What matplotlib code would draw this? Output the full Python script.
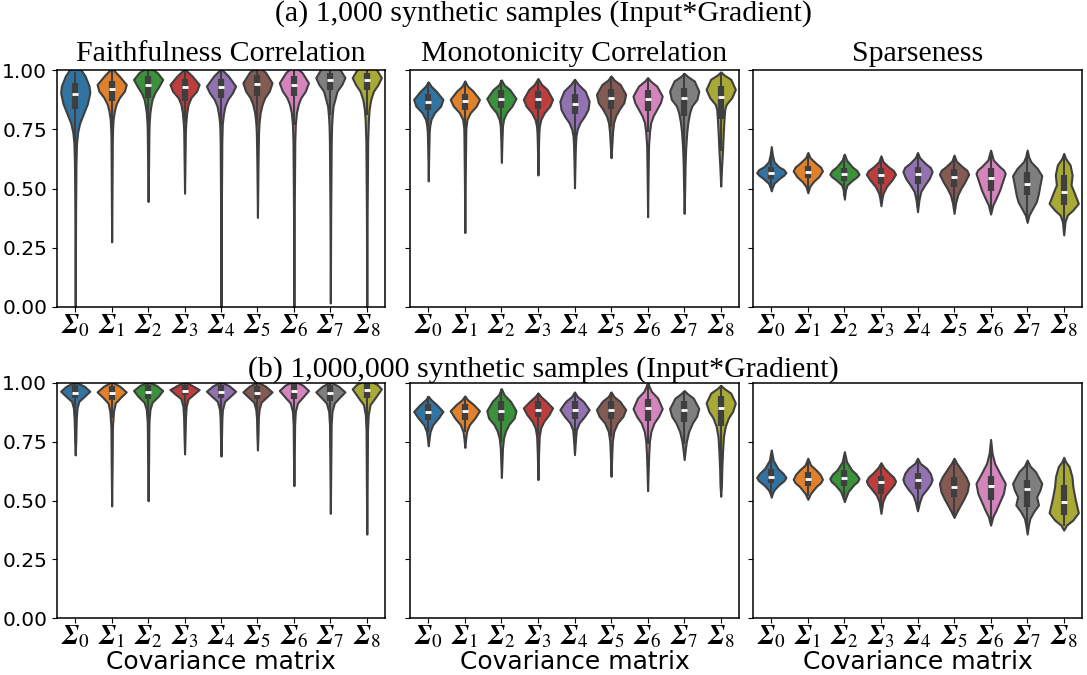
import numpy as np
import matplotlib.pyplot as plt

plt.rcParams['mathtext.fontset'] = 'stix'

# x categories (covariance matrices)
cov_labels = [r'$\mathbfit{\Sigma}_0$', r'$\mathbfit{\Sigma}_1$', r'$\mathbfit{\Sigma}_2$',
              r'$\mathbfit{\Sigma}_3$', r'$\mathbfit{\Sigma}_4$', r'$\mathbfit{\Sigma}_5$',
              r'$\mathbfit{\Sigma}_6$', r'$\mathbfit{\Sigma}_7$', r'$\mathbfit{\Sigma}_8$']
metrics = ['Faithfulness Correlation', 'Monotonicity Correlation', 'Sparseness']
row_titles = ['(a) 1,000 synthetic samples (Input*Gradient)',
              '(b) 1,000,000 synthetic samples (Input*Gradient)']

colors = ['#3274a1', '#e1812c', '#3a923a', '#c03d3e', '#9372b2',
          '#845b53', '#d684bd', '#7f7f7f', '#a9aa35']
gray = '#3f3f3f'

# violin outlines: (value, density width) from bottom to top
faith_a_shape = [
    [(0.0, 0), (0.40, .02), (0.60, .04), (0.69, .07), (0.736, .13), (0.775, .24), (0.816, .45), (0.858, .67), (0.904, .80), (0.932, .76), (0.975, .54), (1.0, .32), (1.03, 0)],
    [(0.275, 0), (0.5, .02), (0.70, .035), (0.75, .05), (0.792, .08), (0.827, .15), (0.855, .24), (0.883, .42), (0.911, .70), (0.939, .80), (0.975, .41), (0.996, .15), (1.01, 0)],
    [(0.445, 0), (0.6, .025), (0.74, .045), (0.778, .06), (0.82, .10), (0.848, .15), (0.876, .22), (0.904, .37), (0.932, .60), (0.960, .80), (0.989, .50), (1.01, .1), (1.02, 0)],
    [(0.48, 0), (0.62, .025), (0.74, .045), (0.778, .07), (0.82, .12), (0.855, .20), (0.883, .35), (0.911, .66), (0.939, .80), (0.975, .41), (0.996, .12), (1.01, 0)],
    [(0.0, 0), (0.4, .02), (0.70, .045), (0.771, .07), (0.813, .13), (0.848, .22), (0.876, .37), (0.904, .63), (0.932, .80), (0.975, .40), (0.996, .12), (1.01, 0)],
    [(0.378, 0), (0.6, .03), (0.736, .06), (0.778, .09), (0.82, .15), (0.855, .26), (0.883, .40), (0.911, .65), (0.946, .80), (0.989, .45), (1.01, .15), (1.02, 0)],
    [(0.0, 0), (0.4, .02), (0.70, .05), (0.771, .08), (0.82, .14), (0.855, .24), (0.883, .38), (0.911, .63), (0.946, .80), (0.989, .45), (1.01, .15), (1.02, 0)],
    [(0.017, 0), (0.4, .02), (0.70, .05), (0.764, .07), (0.806, .10), (0.848, .15), (0.873, .24), (0.911, .37), (0.939, .63), (0.968, .80), (1.0, .55), (1.03, 0)],
    [(0.0, 0), (0.4, .02), (0.70, .05), (0.79, .09), (0.834, .13), (0.876, .22), (0.911, .37), (0.939, .62), (0.968, .80), (1.0, .55), (1.03, 0)],
]
mono_a_shape = [
    [(0.532, 0), (0.65, .025), (0.736, .05), (0.764, .08), (0.792, .15), (0.82, .34), (0.848, .68), (0.876, .80), (0.911, .43), (0.932, .15), (0.95, 0)],
    [(0.314, 0), (0.55, .025), (0.73, .05), (0.757, .06), (0.792, .12), (0.82, .30), (0.848, .63), (0.876, .80), (0.911, .45), (0.932, .15), (0.954, 0)],
    [(0.61, 0), (0.70, .03), (0.764, .06), (0.792, .12), (0.82, .28), (0.848, .58), (0.880, .80), (0.918, .45), (0.937, .15), (0.958, 0)],
    [(0.557, 0), (0.68, .03), (0.736, .05), (0.764, .08), (0.792, .16), (0.82, .35), (0.848, .65), (0.876, .80), (0.918, .50), (0.939, .20), (0.964, 0)],
    [(0.503, 0), (0.62, .03), (0.679, .05), (0.722, .08), (0.75, .15), (0.778, .30), (0.806, .55), (0.834, .74), (0.869, .80), (0.911, .58), (0.94, .20), (0.961, 0)],
    [(0.63, 0), (0.693, .05), (0.736, .08), (0.778, .14), (0.806, .25), (0.834, .45), (0.862, .70), (0.897, .80), (0.939, .50), (0.957, .18), (0.975, 0)],
    [(0.381, 0), (0.55, .025), (0.679, .05), (0.736, .10), (0.778, .17), (0.806, .30), (0.834, .50), (0.862, .70), (0.89, .80), (0.932, .50), (0.954, .15), (0.968, 0)],
    [(0.395, 0), (0.50, .03), (0.595, .05), (0.665, .08), (0.736, .14), (0.778, .20), (0.82, .30), (0.848, .42), (0.876, .70), (0.911, .80), (0.954, .55), (0.972, .20), (0.986, 0)],
    [(0.51, 0), (0.595, .05), (0.665, .10), (0.736, .14), (0.792, .18), (0.834, .22), (0.855, .30), (0.883, .60), (0.918, .80), (0.961, .55), (0.978, .20), (0.992, 0)],
]
sparse_a_shape = [
    [(0.49, 0), (0.501, .04), (0.522, .15), (0.543, .45), (0.556, .68), (0.567, .80), (0.58, .68), (0.592, .40), (0.613, .15), (0.641, .06), (0.677, 0)],
    [(0.482, 0), (0.508, .10), (0.529, .30), (0.55, .60), (0.574, .80), (0.59, .70), (0.606, .45), (0.63, .12), (0.652, 0)],
    [(0.455, 0), (0.494, .06), (0.515, .15), (0.536, .45), (0.549, .68), (0.56, .80), (0.576, .68), (0.592, .42), (0.62, .12), (0.645, 0)],
    [(0.427, 0), (0.459, .06), (0.48, .12), (0.508, .30), (0.536, .60), (0.56, .80), (0.576, .68), (0.592, .40), (0.613, .12), (0.638, 0)],
    [(0.402, 0), (0.452, .08), (0.487, .18), (0.515, .40), (0.543, .65), (0.571, .80), (0.589, .70), (0.606, .42), (0.63, .12), (0.652, 0)],
    [(0.395, 0), (0.437, .08), (0.473, .20), (0.501, .38), (0.529, .60), (0.56, .80), (0.577, .70), (0.592, .45), (0.616, .12), (0.641, 0)],
    [(0.392, 0), (0.43, .12), (0.459, .30), (0.494, .50), (0.529, .65), (0.564, .80), (0.579, .70), (0.592, .50), (0.62, .15), (0.662, 0)],
    [(0.357, 0), (0.388, .10), (0.416, .30), (0.444, .50), (0.473, .60), (0.515, .70), (0.554, .80), (0.585, .55), (0.613, .20), (0.634, .08), (0.662, 0)],
    [(0.304, 0), (0.36, .07), (0.388, .20), (0.409, .50), (0.437, .80), (0.487, .55), (0.515, .40), (0.557, .46), (0.599, .35), (0.627, .10), (0.648, 0)],
]
faith_b_shape = [
    [(0.694, 0), (0.75, .03), (0.794, .04), (0.851, .06), (0.894, .10), (0.922, .20), (0.943, .50), (0.965, .80), (0.986, .50), (1.005, 0)],
    [(0.477, 0), (0.65, .025), (0.80, .04), (0.823, .05), (0.879, .10), (0.915, .20), (0.94, .50), (0.962, .80), (0.986, .45), (1.005, 0)],
    [(0.499, 0), (0.65, .025), (0.80, .04), (0.837, .05), (0.887, .10), (0.918, .22), (0.943, .55), (0.968, .80), (0.99, .45), (1.005, 0)],
    [(0.698, 0), (0.78, .03), (0.851, .05), (0.901, .09), (0.933, .20), (0.952, .50), (0.972, .80), (0.99, .40), (1.005, 0)],
    [(0.689, 0), (0.78, .03), (0.851, .05), (0.887, .08), (0.922, .20), (0.943, .50), (0.965, .80), (0.988, .45), (1.005, 0)],
    [(0.715, 0), (0.78, .03), (0.851, .05), (0.887, .09), (0.918, .20), (0.94, .50), (0.962, .80), (0.986, .45), (1.005, 0)],
    [(0.563, 0), (0.70, .025), (0.823, .04), (0.879, .08), (0.915, .20), (0.943, .52), (0.968, .80), (0.99, .50), (1.01, 0)],
    [(0.445, 0), (0.65, .025), (0.823, .045), (0.879, .09), (0.915, .22), (0.94, .52), (0.962, .80), (0.986, .45), (1.005, 0)],
    [(0.357, 0), (0.60, .025), (0.80, .04), (0.865, .08), (0.908, .18), (0.936, .45), (0.975, .80), (0.995, .55), (1.015, 0)],
]
mono_b_shape = [
    [(0.733, 0), (0.766, .05), (0.794, .10), (0.823, .25), (0.851, .55), (0.879, .80), (0.908, .45), (0.929, .15), (0.943, 0)],
    [(0.726, 0), (0.766, .05), (0.794, .10), (0.823, .25), (0.851, .55), (0.882, .80), (0.908, .48), (0.929, .15), (0.945, 0)],
    [(0.598, 0), (0.681, .04), (0.723, .06), (0.766, .12), (0.794, .22), (0.823, .40), (0.851, .70), (0.882, .80), (0.922, .50), (0.95, .15), (0.976, 0)],
    [(0.589, 0), (0.70, .035), (0.773, .07), (0.809, .15), (0.837, .32), (0.865, .60), (0.894, .80), (0.922, .45), (0.943, .15), (0.958, 0)],
    [(0.695, 0), (0.766, .06), (0.801, .10), (0.83, .25), (0.858, .55), (0.887, .80), (0.922, .48), (0.943, .15), (0.962, 0)],
    [(0.603, 0), (0.695, .04), (0.752, .07), (0.794, .15), (0.83, .35), (0.858, .65), (0.887, .80), (0.922, .48), (0.943, .15), (0.962, 0)],
    [(0.542, 0), (0.624, .03), (0.695, .06), (0.752, .10), (0.794, .18), (0.83, .35), (0.858, .60), (0.891, .80), (0.936, .55), (0.965, .20), (0.986, .08), (1.005, 0)],
    [(0.674, 0), (0.716, .06), (0.752, .12), (0.794, .25), (0.83, .45), (0.858, .68), (0.891, .80), (0.936, .50), (0.953, .20), (0.968, 0)],
    [(0.518, 0), (0.567, .04), (0.638, .06), (0.709, .10), (0.773, .15), (0.816, .25), (0.851, .42), (0.879, .65), (0.915, .80), (0.957, .55), (0.976, .20), (0.99, 0)],
]
sparse_b_shape = [
    [(0.514, 0), (0.53, .06), (0.545, .15), (0.566, .40), (0.585, .70), (0.598, .80), (0.615, .65), (0.637, .35), (0.672, .10), (0.695, .05), (0.715, 0)],
    [(0.505, 0), (0.53, .15), (0.559, .45), (0.576, .70), (0.59, .80), (0.61, .68), (0.63, .45), (0.651, .15), (0.68, 0)],
    [(0.495, 0), (0.509, .06), (0.538, .20), (0.566, .50), (0.581, .72), (0.594, .80), (0.612, .65), (0.63, .40), (0.665, .12), (0.708, 0)],
    [(0.445, 0), (0.495, .10), (0.523, .25), (0.552, .55), (0.568, .72), (0.583, .80), (0.60, .68), (0.616, .45), (0.641, .15), (0.661, 0)],
    [(0.456, 0), (0.495, .12), (0.523, .25), (0.552, .55), (0.572, .72), (0.59, .80), (0.615, .70), (0.637, .50), (0.658, .15), (0.68, 0)],
    [(0.428, 0), (0.452, .15), (0.481, .35), (0.509, .55), (0.538, .72), (0.573, .80), (0.60, .65), (0.63, .40), (0.658, .15), (0.68, 0)],
    [(0.395, 0), (0.431, .12), (0.459, .30), (0.495, .50), (0.53, .70), (0.573, .80), (0.616, .50), (0.658, .22), (0.701, .08), (0.76, 0)],
    [(0.357, 0), (0.395, .07), (0.424, .15), (0.452, .35), (0.481, .62), (0.516, .52), (0.545, .70), (0.573, .80), (0.623, .45), (0.647, .15), (0.672, 0)],
    [(0.374, 0), (0.395, .15), (0.417, .50), (0.448, .80), (0.481, .70), (0.516, .60), (0.559, .50), (0.601, .45), (0.644, .30), (0.665, .10), (0.684, 0)],
]

# inner boxes: [whisker low, q1, median, q3, whisker high]
faith_a_box = [[0.67, 0.834, 0.899, 0.944, 0.99], [0.75, 0.869, 0.918, 0.954, 1.0],
               [0.78, 0.88, 0.938, 0.975, 1.0], [0.78, 0.868, 0.930, 0.964, 1.0],
               [0.76, 0.883, 0.929, 0.963, 1.0], [0.77, 0.891, 0.943, 0.977, 1.0],
               [0.77, 0.890, 0.938, 0.975, 1.0], [0.81, 0.915, 0.957, 0.986, 1.0],
               [0.81, 0.915, 0.956, 0.986, 1.0]]
mono_a_box = [[0.74, 0.83, 0.866, 0.899, 0.95], [0.72, 0.832, 0.871, 0.90, 0.954],
              [0.76, 0.838, 0.876, 0.914, 0.958], [0.73, 0.834, 0.876, 0.91, 0.964],
              [0.70, 0.813, 0.858, 0.90, 0.961], [0.76, 0.834, 0.88, 0.918, 0.975],
              [0.74, 0.827, 0.876, 0.915, 0.968], [0.63, 0.806, 0.883, 0.925, 0.986],
              [0.66, 0.792, 0.887, 0.932, 0.992]]
sparse_a_box = [[0.50, 0.54, 0.567, 0.592, 0.64], [0.49, 0.543, 0.571, 0.596, 0.645],
                [0.47, 0.533, 0.561, 0.588, 0.64], [0.44, 0.519, 0.557, 0.585, 0.632],
                [0.42, 0.519, 0.56, 0.589, 0.645], [0.42, 0.508, 0.55, 0.581, 0.635],
                [0.41, 0.49, 0.543, 0.585, 0.655], [0.37, 0.473, 0.519, 0.571, 0.655],
                [0.31, 0.43, 0.484, 0.557, 0.645]]
faith_b_box = [[0.855, 0.936, 0.957, 0.99, 1.0], [0.85, 0.929, 0.957, 0.986, 1.0],
               [0.85, 0.934, 0.962, 0.99, 1.0], [0.88, 0.948, 0.967, 0.993, 1.0],
               [0.86, 0.936, 0.962, 0.99, 1.0], [0.86, 0.933, 0.957, 0.986, 1.0],
               [0.84, 0.934, 0.967, 1.0, 1.0], [0.83, 0.925, 0.957, 0.99, 1.0],
               [0.84, 0.936, 0.971, 1.0, 1.0]]
mono_b_box = [[0.79, 0.844, 0.875, 0.91, 0.943], [0.79, 0.844, 0.882, 0.91, 0.945],
              [0.75, 0.837, 0.879, 0.922, 0.976], [0.78, 0.854, 0.887, 0.922, 0.958],
              [0.77, 0.848, 0.887, 0.922, 0.962], [0.77, 0.848, 0.887, 0.922, 0.962],
              [0.74, 0.84, 0.894, 0.933, 1.0], [0.74, 0.834, 0.887, 0.925, 0.968],
              [0.63, 0.816, 0.894, 0.943, 0.99]]
sparse_b_box = [[0.53, 0.573, 0.601, 0.636, 0.69], [0.52, 0.561, 0.591, 0.622, 0.675],
                [0.51, 0.561, 0.594, 0.63, 0.69], [0.46, 0.527, 0.58, 0.604, 0.655],
                [0.47, 0.551, 0.587, 0.618, 0.675], [0.44, 0.513, 0.559, 0.598, 0.675],
                [0.41, 0.502, 0.562, 0.604, 0.71], [0.38, 0.474, 0.548, 0.587, 0.665],
                [0.39, 0.438, 0.495, 0.566, 0.68]]

panels = [[(faith_a_shape, faith_a_box), (mono_a_shape, mono_a_box), (sparse_a_shape, sparse_a_box)],
          [(faith_b_shape, faith_b_box), (mono_b_shape, mono_b_box), (sparse_b_shape, sparse_b_box)]]


def draw_violins(ax, shapes, boxes):
    stats = []
    for knots in shapes:
        ys = np.array([k[0] for k in knots])
        ws = np.array([k[1] for k in knots])
        stats.append(dict(coords=ys, vals=ws, mean=ys.mean(), median=np.median(ys),
                          min=ys[0], max=ys[-1]))
    widths = [max(k[1] for k in knots) for knots in shapes]
    parts = ax.violin(stats, positions=range(len(shapes)), widths=widths,
                      showextrema=False)
    for body, c in zip(parts['bodies'], colors):
        body.set_facecolor(c)
        body.set_edgecolor(gray)
        body.set_linewidth(1.5)
        body.set_alpha(1)
    for i, (lo, q1, med, q3, hi) in enumerate(boxes):
        ax.vlines(i, lo, hi, color=gray, lw=1.5, zorder=2)
        ax.vlines(i, q1, q3, color=gray, lw=4.5, zorder=2)
        ax.plot(i, med, marker='_', ms=4, mew=2, color='white', zorder=3)


fig = plt.figure(figsize=(10.87, 6.75), dpi=100)
W, H = 1087, 675
col_x = [(57, 328), (410, 329), (753, 329)]
row_y = [(70, 307), (383, 618)]

for r in range(2):
    for c in range(3):
        x0, w = col_x[c]
        top, bot = row_y[r]
        ax = fig.add_axes([x0 / W, 1 - bot / H, w / W, (bot - top) / H])
        shapes, boxes = panels[r][c]
        draw_violins(ax, shapes, boxes)
        ax.set_xlim(-0.5, 8.5)
        ax.set_ylim(0, 1)
        ax.set_yticks([0, 0.25, 0.5, 0.75, 1.0])
        ax.set_xticks(range(9))
        ax.set_xticklabels(cov_labels, fontsize=19.5)
        ax.tick_params(axis='x', pad=1)
        if c == 0:
            ax.set_yticklabels(['0.00', '0.25', '0.50', '0.75', '1.00'], fontsize=14.5)
        else:
            ax.set_yticklabels([])
        for s in ax.spines.values():
            s.set_linewidth(1.1)
        if r == 0:
            fig.text((x0 + w / 2) / W, 1 - 61 / H, metrics[c], ha='center', va='baseline',
                     family='Liberation Serif', fontsize=21.5)
        else:
            ax.set_xlabel('Covariance matrix', fontsize=18)
            ax.xaxis.set_label_coords(0.5, -(650 - bot) / (bot - top))

fig.text(0.5, 1 - 21 / H, row_titles[0], ha='center', va='baseline',
         family='Liberation Serif', fontsize=21.5)
fig.text(0.5, 1 - 377 / H, row_titles[1], ha='center', va='baseline',
         family='Liberation Serif', fontsize=21.5)

fig.savefig('out.png', dpi=100)
